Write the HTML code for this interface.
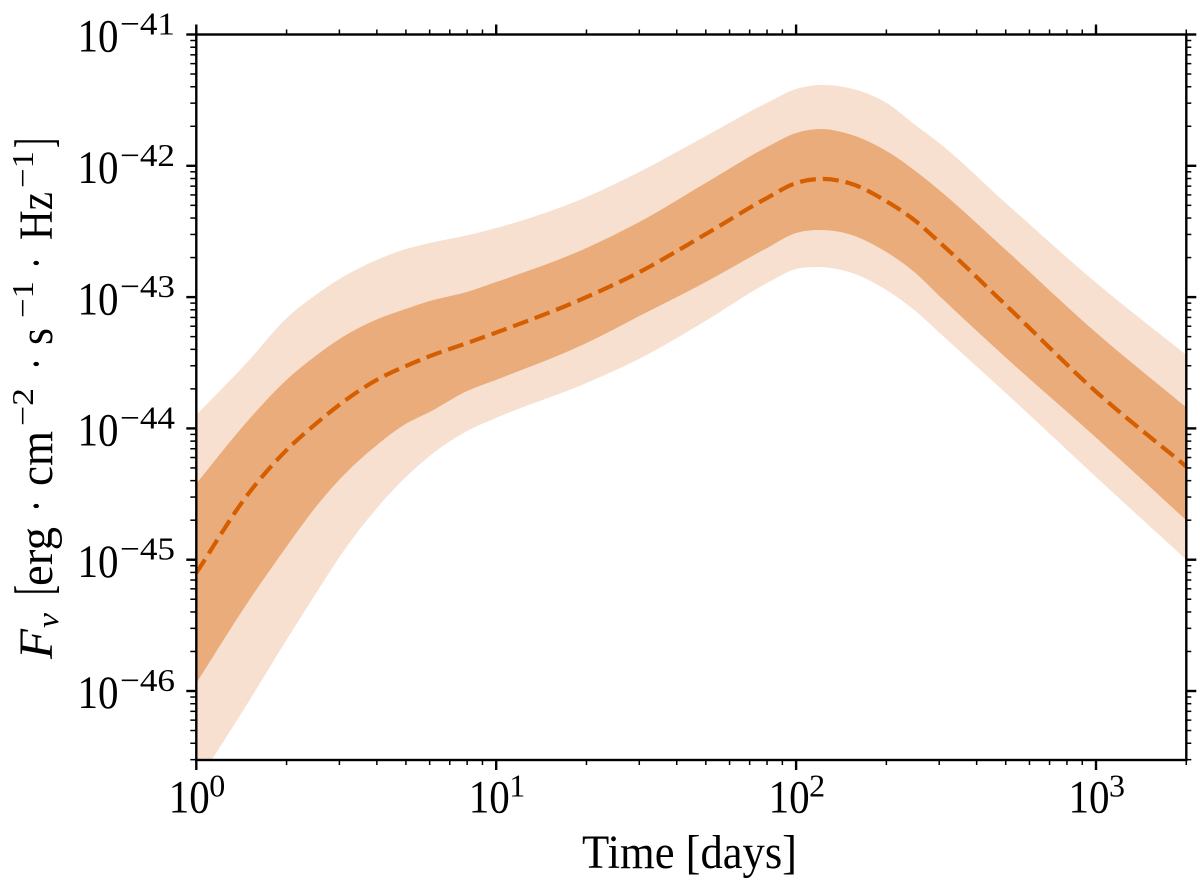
<!DOCTYPE html>
<html lang="en">
<head>
<meta charset="utf-8">
<title>Flux density light curve</title>
<style>
html,body{margin:0;padding:0;background:#fff;width:1200px;height:887px;overflow:hidden}
svg{display:block}
text{font-family:"Liberation Serif",serif;fill:#000}
</style>
</head>
<body>
<svg id="chart" xmlns="http://www.w3.org/2000/svg" width="1200" height="887" viewBox="0 0 1200 887">
  <rect x="0" y="0" width="1200" height="887" fill="#fff"/>
  <defs><clipPath id="plot-clip"><rect x="196.3" y="34.5" width="990" height="725.5"/></clipPath></defs>
  <g id="bands" clip-path="url(#plot-clip)"></g>
  <g id="axes"></g>
  <g id="tick-labels"></g>

  <text x="582" y="868" font-size="48" textLength="215" lengthAdjust="spacingAndGlyphs">Time [days]</text>

  <g>
    <text transform="translate(52,659) rotate(-90)" font-size="48" font-style="italic" textLength="30" lengthAdjust="spacingAndGlyphs">F</text>
    <text transform="translate(58,628) rotate(-90)" font-size="31" font-style="italic" textLength="15" lengthAdjust="spacingAndGlyphs">ν</text>
    <text transform="translate(52,595) rotate(-90)" font-size="54" textLength="10" lengthAdjust="spacingAndGlyphs">[</text>
    <text transform="translate(52,586) rotate(-90)" font-size="48" textLength="59" lengthAdjust="spacingAndGlyphs">erg</text>
    <text transform="translate(52,512) rotate(-90)" font-size="48" textLength="12" lengthAdjust="spacingAndGlyphs">·</text>
    <text transform="translate(52,486) rotate(-90)" font-size="48" textLength="55" lengthAdjust="spacingAndGlyphs">cm</text>
    <text transform="translate(33,426) rotate(-90)" font-size="31" textLength="38" lengthAdjust="spacingAndGlyphs">−2</text>
    <text transform="translate(52,370) rotate(-90)" font-size="48" textLength="12" lengthAdjust="spacingAndGlyphs">·</text>
    <text transform="translate(52,345) rotate(-90)" font-size="48" textLength="17" lengthAdjust="spacingAndGlyphs">s</text>
    <text transform="translate(33,318) rotate(-90)" font-size="31" textLength="37" lengthAdjust="spacingAndGlyphs">−1</text>
    <text transform="translate(52,269) rotate(-90)" font-size="48" textLength="12" lengthAdjust="spacingAndGlyphs">·</text>
    <text transform="translate(52,240) rotate(-90)" font-size="48" textLength="48" lengthAdjust="spacingAndGlyphs">Hz</text>
    <text transform="translate(33,188) rotate(-90)" font-size="31" textLength="37" lengthAdjust="spacingAndGlyphs">−1</text>
    <text transform="translate(52,148) rotate(-90)" font-size="54" textLength="10" lengthAdjust="spacingAndGlyphs">]</text>
  </g>
</svg>
<script>
const days = [1, 1.5, 2, 2.5, 3, 4, 5, 6, 8, 10, 20, 30, 50, 80, 100, 120, 150, 200, 250, 300, 500, 1000, 2000];
const logMedian = [-45.10, -44.49, -44.165, -43.966, -43.82, -43.63, -43.525, -43.45, -43.35, -43.27, -43.00, -42.81, -42.52, -42.245, -42.131, -42.10, -42.131, -42.27, -42.42, -42.58, -43.06, -43.72, -44.29];
const logInnerUpper = [-44.42, -43.93, -43.63, -43.448, -43.32, -43.17, -43.09, -43.03, -42.96, -42.885, -42.626, -42.428, -42.13, -41.857, -41.75, -41.72, -41.758, -41.887, -42.04, -42.185, -42.64, -43.27, -43.84];
const logInnerLower = [-45.94, -45.31, -44.90, -44.60, -44.39, -44.127, -43.965, -43.875, -43.715, -43.63, -43.35, -43.144, -42.885, -42.626, -42.512, -42.489, -42.52, -42.657, -42.816, -42.99, -43.46, -44.07, -44.70];
const logOuterUpper = [-43.898, -43.48, -43.16, -42.984, -42.862, -42.717, -42.634, -42.588, -42.53, -42.474, -42.238, -42.047, -41.773, -41.52, -41.415, -41.385, -41.407, -41.52, -41.69, -41.826, -42.283, -42.89, -43.44];
const logOuterLower = [-46.71, -46.075, -45.61, -45.26, -44.98, -44.607, -44.37, -44.21, -44.02, -43.92, -43.654, -43.47, -43.18, -42.893, -42.786, -42.771, -42.809, -42.946, -43.106, -43.27, -43.73, -44.37, -45.00];
const xTickExponents = [0, 1, 2, 3];
const yTickExponents = [-41, -42, -43, -44, -45, -46];
const minorMultipliers = [2, 3, 4, 5, 6, 7, 8, 9];

const SVGNS = 'http://www.w3.org/2000/svg';
const PLOT_LEFT = 196.3, PLOT_RIGHT = 1186.3, PLOT_TOP = 34.5, PLOT_BOTTOM = 760;
const X_DECADE = 299.9, Y_DECADE = 131.3;
function xScale(d) { return PLOT_LEFT + Math.log10(d) * X_DECADE; }
function yScale(logF) { return PLOT_TOP + (-41 - logF) * Y_DECADE; }

function toPoints(xs, ys) { return xs.map(function (d, i) { return [xScale(d), yScale(ys[i])]; }); }
function slopes(p) {
  const n = p.length, m = [];
  for (let i = 0; i < n; i++) {
    if (i === 0) { m.push((p[1][1] - p[0][1]) / (p[1][0] - p[0][0])); continue; }
    if (i === n - 1) { m.push((p[n - 1][1] - p[n - 2][1]) / (p[n - 1][0] - p[n - 2][0])); continue; }
    const h0 = p[i][0] - p[i - 1][0], h1 = p[i + 1][0] - p[i][0];
    const s0 = (p[i][1] - p[i - 1][1]) / h0, s1 = (p[i + 1][1] - p[i][1]) / h1;
    m.push((s0 * h1 + s1 * h0) / (h0 + h1));
  }
  return m;
}
function splineSegments(p) {
  const fwd = p[1][0] > p[0][0];
  const q = fwd ? p : p.slice().reverse();
  const m = slopes(q);
  const parts = [];
  for (let i = 0; i < q.length - 1; i++) {
    const h = q[i + 1][0] - q[i][0];
    const a = [q[i][0] + h / 3, q[i][1] + m[i] * h / 3];
    const b = [q[i + 1][0] - h / 3, q[i + 1][1] - m[i + 1] * h / 3];
    parts.push(fwd ? [a, b, q[i + 1]] : [b, a, q[i]]);
  }
  if (!fwd) parts.reverse();
  return parts.map(function (s) {
    return 'C' + s[0][0].toFixed(2) + ' ' + s[0][1].toFixed(2) + ' ' + s[1][0].toFixed(2) + ' ' + s[1][1].toFixed(2) + ' ' + s[2][0].toFixed(2) + ' ' + s[2][1].toFixed(2);
  }).join('');
}
function linePath(ys) {
  const p = toPoints(days, ys);
  return 'M' + p[0][0].toFixed(2) + ' ' + p[0][1].toFixed(2) + splineSegments(p);
}
function bandPath(up, low) {
  const a = toPoints(days, up), b = toPoints(days, low).reverse();
  return 'M' + a[0][0].toFixed(2) + ' ' + a[0][1].toFixed(2) + splineSegments(a) +
    'L' + b[0][0].toFixed(2) + ' ' + b[0][1].toFixed(2) + splineSegments(b) + 'Z';
}

const bands = document.getElementById('bands');
const axes = document.getElementById('axes');
const labels = document.getElementById('tick-labels');

const outerBand = document.createElementNS(SVGNS, 'path');


outerBand.setAttribute('d', bandPath(logOuterUpper, logOuterLower));
outerBand.setAttribute('fill', '#f7e0d0');
bands.appendChild(outerBand);

const innerBand = document.createElementNS(SVGNS, 'path');


innerBand.setAttribute('d', bandPath(logInnerUpper, logInnerLower));
innerBand.setAttribute('fill', '#eaac7b');
bands.appendChild(innerBand);

const medianLine = document.createElementNS(SVGNS, 'path');


medianLine.setAttribute('d', linePath(logMedian));
medianLine.setAttribute('fill', 'none');
medianLine.setAttribute('stroke', '#d55e00');
medianLine.setAttribute('stroke-width', '4.2');
medianLine.setAttribute('stroke-dasharray', '16 7');
bands.appendChild(medianLine);

function drawTick(x1, y1, x2, y2, w, name) {
  const t = document.createElementNS(SVGNS, 'line');
  
  
  t.setAttribute('x1', x1);
  t.setAttribute('y1', y1);
  t.setAttribute('x2', x2);
  t.setAttribute('y2', y2);
  t.setAttribute('stroke', '#000');
  t.setAttribute('stroke-width', w);
  axes.appendChild(t);
}

xTickExponents.forEach(function (e) {
  const x = xScale(Math.pow(10, e));
  drawTick(x, PLOT_BOTTOM, x, PLOT_BOTTOM + 10, 2.4, 'x-major-tick');
  drawTick(x, PLOT_TOP, x, PLOT_TOP - 10, 2.4, 'x-major-tick-top');
  minorMultipliers.forEach(function (m) {
    const d = m * Math.pow(10, e);
    if (d > 2000) return;
    const mx = xScale(d);
    drawTick(mx, PLOT_BOTTOM, mx, PLOT_BOTTOM + 5, 1.5, 'x-minor-tick');
    drawTick(mx, PLOT_TOP, mx, PLOT_TOP - 5, 1.5, 'x-minor-tick-top');
  });
  const base = document.createElementNS(SVGNS, 'text');
  
  
  base.setAttribute('x', x - 27.5);
  base.setAttribute('y', 812.7);
  base.setAttribute('font-size', '47');
  base.setAttribute('textLength', '41');
  base.setAttribute('lengthAdjust', 'spacingAndGlyphs');
  base.textContent = '10';
  labels.appendChild(base);
  const sup = document.createElementNS(SVGNS, 'text');
  
  
  sup.setAttribute('x', x + 13);
  sup.setAttribute('y', 796.7);
  sup.setAttribute('font-size', '32');
  sup.textContent = String(e);
  labels.appendChild(sup);
});

yTickExponents.forEach(function (e) {
  const y = yScale(e);
  drawTick(PLOT_LEFT, y, PLOT_LEFT - 10, y, 2.4, 'y-major-tick');
  drawTick(PLOT_RIGHT, y, PLOT_RIGHT + 10, y, 2.4, 'y-major-tick-right');
  const base = document.createElementNS(SVGNS, 'text');
  
  
  base.setAttribute('x', 77.5);
  base.setAttribute('y', y + 17.2);
  base.setAttribute('font-size', '47');
  base.setAttribute('textLength', '41');
  base.setAttribute('lengthAdjust', 'spacingAndGlyphs');
  base.textContent = '10';
  labels.appendChild(base);
  const sup = document.createElementNS(SVGNS, 'text');
  
  
  sup.setAttribute('x', 120);
  sup.setAttribute('y', y);
  sup.setAttribute('font-size', '32');
  sup.setAttribute('textLength', '55');
  sup.setAttribute('lengthAdjust', 'spacingAndGlyphs');
  sup.textContent = '\u2212' + Math.abs(e);
  labels.appendChild(sup);
  minorMultipliers.forEach(function (m) {
    const logVal = e - 1 + Math.log10(m);
    const my = yScale(logVal);
    if (my > PLOT_BOTTOM + 0.5) return;
    drawTick(PLOT_LEFT, my, PLOT_LEFT - 6, my, 1.5, 'y-minor-tick');
    drawTick(PLOT_RIGHT, my, PLOT_RIGHT + 5, my, 1.5, 'y-minor-tick-right');
  });
});

const frame = document.createElementNS(SVGNS, 'rect');


frame.setAttribute('x', PLOT_LEFT);
frame.setAttribute('y', PLOT_TOP);
frame.setAttribute('width', PLOT_RIGHT - PLOT_LEFT);
frame.setAttribute('height', PLOT_BOTTOM - PLOT_TOP);
frame.setAttribute('fill', 'none');
frame.setAttribute('stroke', '#000');
frame.setAttribute('stroke-width', '2.4');
axes.appendChild(frame);
</script>
</body>
</html>
